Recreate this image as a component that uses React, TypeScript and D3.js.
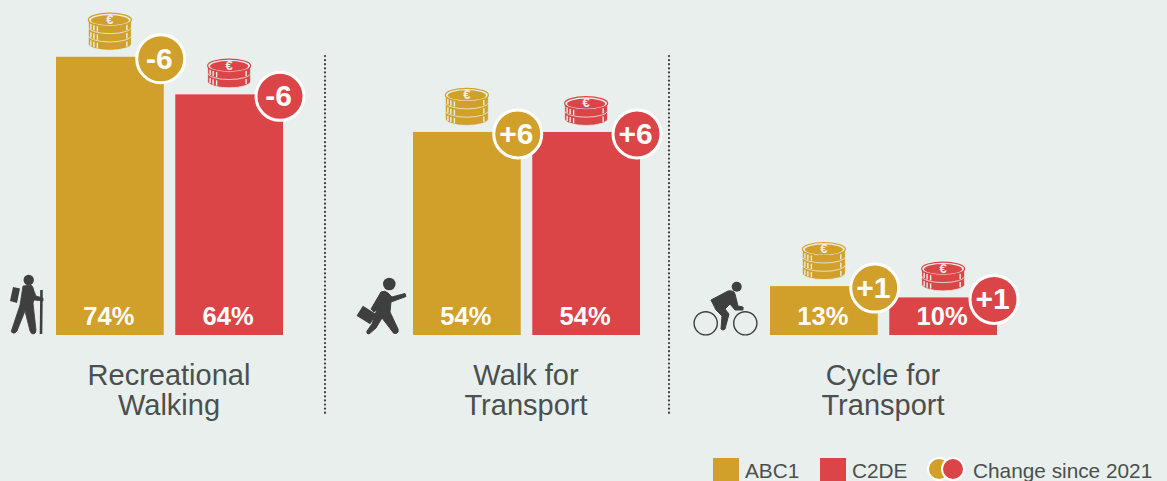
import React, { useEffect, useRef } from "react";
import * as d3 from "d3";

const activities = ["Recreational Walking", "Walk for Transport", "Cycle for Transport"];
const labelLines = [
  ["Recreational", "Walking"],
  ["Walk for", "Transport"],
  ["Cycle for", "Transport"],
];
const groups = ["ABC1", "C2DE"];
const abc1Values = [74, 54, 13];
const c2deValues = [64, 54, 10];
const abc1Change = ["-6", "+6", "+1"];
const c2deChange = ["-6", "+6", "+1"];
const abc1Coins = [3, 3, 3];
const c2deCoins = [2, 2, 2];

const GOLD = "#d1a02a";
const RED = "#dc4548";
const BG = "#e8efed";
const DARK = "#3f3f3f";
const TEXT = "#4b4f4f";
const FONT = "'Liberation Sans', Arial, sans-serif";

function App() {
  const svgRef = useRef<SVGSVGElement>(null);
  const width = 1167;
  const height = 481;

  useEffect(() => {
    const svg = d3.select(svgRef.current);
    svg.selectAll("*").remove();

    const y = d3.scaleLinear().domain([0, 100]).range([335, -41]);
    const groupX = d3.scaleLinear().domain([0, 2]).range([56, 770]);
    const barX = d3.scaleBand().domain(groups).range([0, 227]).paddingInner(0.0966);
    const bw = barX.bandwidth();

    const rows = activities.flatMap((a, i) => [
      { i, group: "ABC1", value: abc1Values[i], change: abc1Change[i], coins: abc1Coins[i], color: GOLD },
      { i, group: "C2DE", value: c2deValues[i], change: c2deChange[i], coins: c2deCoins[i], color: RED },
    ]);
    const xOf = (d) => groupX(d.i) + barX(d.group);

    // Bars
    svg
      .append("g")
      .selectAll("rect")
      .data(rows)
      .join("rect")
      .attr("x", xOf)
      .attr("y", (d) => y(d.value))
      .attr("width", bw)
      .attr("height", (d) => y(0) - y(d.value))
      .attr("fill", (d) => d.color);

    // Value labels
    svg
      .append("g")
      .selectAll("text")
      .data(rows)
      .join("text")
      .attr("x", (d) => xOf(d) + bw / 2 - 1)
      .attr("y", 325)
      .attr("text-anchor", "middle")
      .attr("fill", "white")
      .style("font", `bold 25.5px ${FONT}`)
      .text((d) => `${d.value}%`);

    // Coin stacks
    rows.forEach((d) => {
      const cx = xOf(d) + bw / 2;
      const rx = 21.5;
      const ry = 6.6;
      const step = 8.3;
      const bottom = y(d.value) - 6.5;
      const topCy = bottom - ry - step * d.coins + 1;
      const g = svg.append("g");
      for (let k = d.coins - 1; k >= 0; k--) {
        const cy = topCy + step * k;
        g.append("path")
          .attr(
            "d",
            `M${cx - rx},${cy} L${cx - rx},${cy + step - 1} A${rx},${ry} 0 0 0 ${cx + rx},${cy + step - 1} L${cx + rx},${cy} Z`
          )
          .attr("fill", d.color)
          .attr("stroke", BG)
          .attr("stroke-width", 0.8);
        [-19, -16, -12.5, 17].forEach((dx) => {
          const ey = cy + ry * Math.sqrt(1 - (dx * dx) / (rx * rx));
          g.append("line")
            .attr("x1", cx + dx)
            .attr("x2", cx + dx)
            .attr("y1", ey + 1)
            .attr("y2", ey + step - 2)
            .attr("stroke", BG)
            .attr("stroke-width", 1.4);
        });
      }
      g.append("ellipse")
        .attr("cx", cx)
        .attr("cy", topCy)
        .attr("rx", rx)
        .attr("ry", ry)
        .attr("fill", BG)
        .attr("stroke", d.color)
        .attr("stroke-width", 1.2);
      g.append("ellipse")
        .attr("cx", cx)
        .attr("cy", topCy + 0.5)
        .attr("rx", rx - 2.5)
        .attr("ry", ry - 1.5)
        .attr("fill", d.color);
      g.append("text")
        .attr("x", cx)
        .attr("y", topCy + 4)
        .attr("text-anchor", "middle")
        .attr("fill", BG)
        .style("font", `bold 13px ${FONT}`)
        .text("€");
    });

    // Change badges
    const badges = svg.append("g").selectAll("g").data(rows).join("g")
      .attr("transform", (d) => `translate(${xOf(d) + bw - 3},${y(d.value) + 2})`);
    badges
      .append("circle")
      .attr("r", 24)
      .attr("fill", (d) => d.color)
      .attr("stroke", "white")
      .attr("stroke-width", 3);
    badges
      .append("text")
      .attr("x", -1.5)
      .attr("y", 10)
      .attr("text-anchor", "middle")
      .attr("fill", "white")
      .style("font", `bold 30px ${FONT}`)
      .text((d) => d.change);

    // Category labels
    labelLines.forEach((lines, i) => {
      lines.forEach((line, k) => {
        svg
          .append("text")
          .attr("x", groupX(i) + 113)
          .attr("y", 385 + k * 30)
          .attr("text-anchor", "middle")
          .attr("fill", TEXT)
          .style("font", `29px ${FONT}`)
          .text(line);
      });
    });

    // Dotted separators
    [325, 669].forEach((x) => {
      svg
        .append("line")
        .attr("x1", x)
        .attr("x2", x)
        .attr("y1", 56)
        .attr("y2", 414)
        .attr("stroke", DARK)
        .attr("stroke-width", 2.2)
        .attr("stroke-linecap", "round")
        .attr("stroke-dasharray", "0.1 4");
    });

    // Hiker icon
    const hiker = svg.append("g").attr("fill", DARK);
    hiker.append("circle").attr("cx", 28.7).attr("cy", 280).attr("r", 5.2);
    hiker.append("path").attr("d", "M13,287 L20,288.5 L17,303 L10,301 Z");
    hiker
      .append("path")
      .attr(
        "d",
        "M23,286 L31,285 Q33,286 34,291 L36,296 L43,298 L43,301 L34,300 L33,303 L36,330 Q36,334 33,334 Q31,334 30,331 L25,311 L17,331 Q15,334 13,333 Q10,332 12,329 L20,305 Z"
      )
      .attr("stroke", DARK)
      .attr("stroke-width", 0.8);
    hiker
      .append("line")
      .attr("x1", 41.5)
      .attr("x2", 41)
      .attr("y1", 290)
      .attr("y2", 334)
      .attr("stroke", DARK)
      .attr("stroke-width", 2.6);

    // Walker icon
    const walker = svg.append("g").attr("fill", DARK);
    walker.append("circle").attr("cx", 389.3).attr("cy", 284).attr("r", 6.3);
    walker
      .append("rect")
      .attr("x", -8)
      .attr("y", -6)
      .attr("width", 16)
      .attr("height", 12)
      .attr("transform", "translate(366.5,315) rotate(32)");
    walker
      .append("path")
      .attr(
        "d",
        "M381,292 Q385,290 388,293 L392,297 L405,293.5 L406,296.5 L391,302 L390,312 L398,329 Q399,333 396,333.5 Q393,334 392,331 L382,318 L376,328 L369,334 Q366,334 367,331 L372,324 L377,309 L374,312 L371,309 Z"
      )
      .attr("stroke", DARK)
      .attr("stroke-width", 1);

    // Cyclist icon
    const cyclist = svg.append("g");
    cyclist.append("circle").attr("cx", 736.7).attr("cy", 286.7).attr("r", 5).attr("fill", DARK);
    [705.7, 745.3].forEach((cx) => {
      cyclist
        .append("circle")
        .attr("cx", cx)
        .attr("cy", 323.3)
        .attr("r", 11.6)
        .attr("fill", "none")
        .attr("stroke", DARK)
        .attr("stroke-width", 1.4);
    });
    cyclist
      .append("path")
      .attr("d", "M711,300 L728,291 Q734,290 735,294 L738,306 L743,307 L743,310 L735,310 L730,304 L725,309 L729,314 L725,329 Q723,331 721,329 L722,316 L716,310 Z")
      .attr("fill", DARK)
      .attr("stroke", DARK)
      .attr("stroke-width", 1);

    // Legend
    const legend = svg.append("g");
    [
      { x: 713, label: groups[0], color: GOLD },
      { x: 820, label: groups[1], color: RED },
    ].forEach((d) => {
      legend.append("rect").attr("x", d.x).attr("y", 458).attr("width", 26).attr("height", 23).attr("fill", d.color);
      legend
        .append("text")
        .attr("x", d.x + 32)
        .attr("y", 478)
        .attr("fill", TEXT)
        .style("font", `20.8px ${FONT}`)
        .text(d.label);
    });
    legend.append("circle").attr("cx", 939).attr("cy", 469).attr("r", 11).attr("fill", GOLD).attr("stroke", "white").attr("stroke-width", 2);
    legend.append("circle").attr("cx", 953).attr("cy", 469).attr("r", 11).attr("fill", RED).attr("stroke", "white").attr("stroke-width", 2);
    legend
      .append("text")
      .attr("x", 973)
      .attr("y", 478)
      .attr("fill", TEXT)
      .style("font", `20.8px ${FONT}`)
      .text("Change since 2021");
  }, []);

  return (
    <svg
      ref={svgRef}
      width={width}
      height={height}
      style={{ position: "absolute", left: 0, top: 0, background: BG }}
    ></svg>
  );
}

export default App;
